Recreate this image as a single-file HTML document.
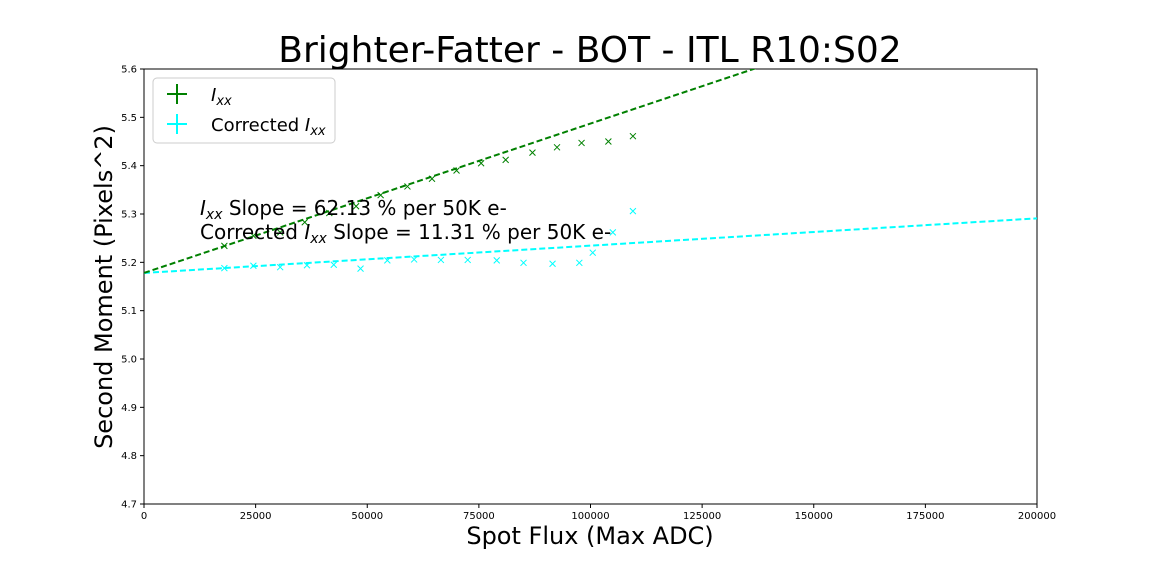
<!DOCTYPE html>
<html><head><meta charset="utf-8"><style>
body{margin:0;background:#fff;width:1152px;height:576px;overflow:hidden}
svg{font-family:"DejaVu Sans","Liberation Sans",sans-serif}
</style></head><body>
<svg id="chart" width="1152" height="576">
<text x="590" y="62" font-size="36" text-anchor="middle">Brighter-Fatter - BOT - ITL R10:S02</text>
<g id="axes"></g>
<g id="marks"></g>
<g id="legend">
<rect x="153" y="78" width="182" height="65" rx="4" fill="#fff" stroke="#ccc"/>
<g>
<line x1="167" y1="94" x2="187" y2="94" stroke="green" stroke-width="2"/><line x1="177" y1="84" x2="177" y2="104" stroke="green" stroke-width="2"/>
<text x="211" y="101" font-size="18"><tspan font-style="italic">I</tspan><tspan font-size="13" dy="4" font-style="italic">xx</tspan></text></g>
<g>
<line x1="167" y1="124" x2="187" y2="124" stroke="cyan" stroke-width="2"/><line x1="177" y1="114" x2="177" y2="134" stroke="cyan" stroke-width="2"/>
<text x="211" y="131" font-size="18">Corrected <tspan font-style="italic">I</tspan><tspan font-size="13" dy="4" font-style="italic">xx</tspan></text></g>
</g>
<text x="200" y="215" font-size="20"><tspan font-style="italic">I</tspan><tspan font-size="14" dy="4" font-style="italic">xx</tspan><tspan dy="-4"> Slope = 62.13 % per 50K e-</tspan></text>
<text x="200" y="239" font-size="20">Corrected <tspan font-style="italic">I</tspan><tspan font-size="14" dy="4" font-style="italic">xx</tspan><tspan dy="-4"> Slope = 11.31 % per 50K e-</tspan></text>
<text x="590" y="544" font-size="24" text-anchor="middle">Spot Flux (Max ADC)</text>
<text transform="translate(112,287) rotate(-90)" font-size="24" text-anchor="middle">Second Moment (Pixels^2)</text>
</svg>
<script>
const xTicks=[0,25000,50000,75000,100000,125000,150000,175000,200000];
const yTicks=[4.7,4.8,4.9,5.0,5.1,5.2,5.3,5.4,5.5,5.6];
const fluxIxx=[18000,24500,30500,36000,41500,47500,53000,59000,64500,70000,75500,81000,87000,92500,98000,104000,109500];
const valIxx=[5.234,5.255,5.262,5.283,5.302,5.316,5.339,5.357,5.373,5.390,5.405,5.412,5.427,5.438,5.447,5.450,5.461];
const fluxCorr=[18000,24500,30500,36500,42500,48500,54500,60500,66500,72500,79000,85000,91500,97500,100500,105000,109500];
const valCorr=[5.188,5.193,5.190,5.194,5.195,5.187,5.204,5.206,5.205,5.205,5.204,5.199,5.197,5.199,5.220,5.262,5.306];
const fitIxx=[5.178,0.0030915];
const fitCorr=[5.178,0.000565];
const L=144,R=1037,T=69,B=504;
const X=v=>L+(v-0)/200000*(R-L);
const Y=v=>B-(v-4.7)/0.9*(B-T);
const NS='http://www.w3.org/2000/svg';
function mk(t,a,p){const e=document.createElementNS(NS,t);for(const k in a)e.setAttribute(k,a[k]);p.appendChild(e);return e;}
const ax=document.getElementById('axes');
const frame=mk('rect',{x:L,y:T,width:R-L,height:B-T,fill:'none',stroke:'#000','stroke-width':1},ax);


xTicks.forEach(v=>{mk('line',{x1:X(v),x2:X(v),y1:B,y2:B+4,stroke:'#000'},ax);
const t=mk('text',{x:X(v),y:B+15,'font-size':10,'text-anchor':'middle'},ax);t.textContent=v;

});
yTicks.forEach(v=>{mk('line',{x1:L-4,x2:L,y1:Y(v),y2:Y(v),stroke:'#000'},ax);
const t=mk('text',{x:L-7,y:Y(v)+3.5,'font-size':10,'text-anchor':'end'},ax);t.textContent=v.toFixed(1);

});
const m=document.getElementById('marks');
const cp=mk('clipPath',{id:'cp'},m);mk('rect',{x:L,y:T,width:R-L,height:B-T},cp);
function fit(f,c,name){const x2=200000;const l=mk('line',{x1:X(0),y1:Y(f[0]),x2:X(x2),y2:Y(f[0]+f[1]*x2/1000),stroke:c,'stroke-width':2,'stroke-dasharray':'6,3','clip-path':'url(#cp)'},m);

}
fit(fitCorr,'cyan','corrected-fit-line');
fit(fitIxx,'green','ixx-fit-line');
function pts(fx,vy,c,name){fx.forEach((f,i)=>{const g=mk('g',{},m);


const x=X(f),y=Y(vy[i]);
mk('path',{d:`M${x-3},${y-3}L${x+3},${y+3}M${x-3},${y+3}L${x+3},${y-3}`,stroke:c,'stroke-width':1},g);});}
pts(fluxIxx,valIxx,'green','ixx-point');
pts(fluxCorr,valCorr,'cyan','corrected-point');
</script>
</body></html>
